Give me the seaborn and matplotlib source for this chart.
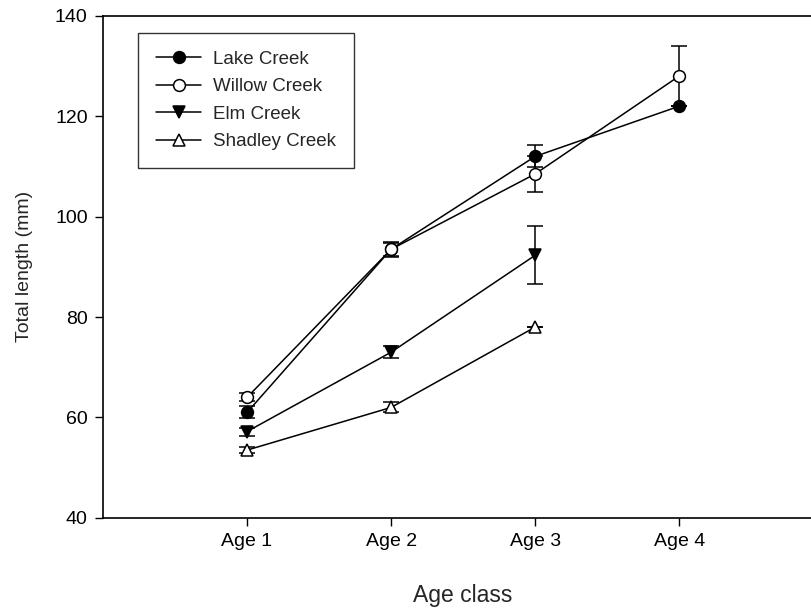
import matplotlib
matplotlib.use("Agg")
import matplotlib.pyplot as plt
import seaborn as sns
import pandas as pd
import numpy as np

ages = ["Age 1", "Age 2", "Age 3", "Age 4"]
lake = [61.0, 93.5, 112.0, 122.0]
lake_err = [1.2, 1.3, 2.2, 0.0]
willow = [64.0, 93.5, 108.5, 128.0]
willow_err = [0.8, 1.5, 3.6, 6.0]
elm = [57.2, 73.0, 92.3]
elm_err = [0.8, 1.2, 5.8]
shadley = [53.5, 62.0, 78.0]
shadley_err = [0.6, 1.0, 0.0]

series = [
    ("Lake Creek", lake, lake_err, "o", "black"),
    ("Willow Creek", willow, willow_err, "o", "white"),
    ("Elm Creek", elm, elm_err, "v", "black"),
    ("Shadley Creek", shadley, shadley_err, "^", "white"),
]

sns.set_style("ticks")
plt.rcParams["font.family"] = ["Liberation Sans", "DejaVu Sans"]

fig = plt.figure(figsize=(8.11, 6.10), dpi=100)
ax = fig.add_axes([0.127, 0.151, 0.888, 0.823])

for name, vals, errs, mk, fc in series:
    df = pd.DataFrame({"x": np.arange(1, len(vals) + 1), "y": vals})
    ax.errorbar(df["x"], df["y"], yerr=errs, fmt="none", ecolor="black",
                elinewidth=1.1, capsize=6, capthick=1.1, zorder=2)
    sns.lineplot(data=df, x="x", y="y", ax=ax, color="black", lw=1.1,
                 marker=mk, markersize=8.5 if mk == "o" else 9,
                 markerfacecolor=fc, markeredgecolor="black",
                 markeredgewidth=1.1, label=name, zorder=3)

ax.set_xlim(0, 5)
ax.set_ylim(40, 140)
ax.set_xticks([1, 2, 3, 4])
ax.set_xticklabels(ages)
ax.set_yticks([40, 60, 80, 100, 120, 140])
ax.tick_params(direction="out", length=6, width=1, labelsize=14, colors="black", pad=5)
for s in ax.spines.values():
    s.set_linewidth(1.2)
    s.set_color("black")
ax.set_xlabel("Age class", fontsize=16.5, labelpad=24)
ax.set_ylabel("Total length (mm)", fontsize=14, labelpad=16)

leg = ax.legend(loc="upper left", bbox_to_anchor=(0.049, 0.966), frameon=True,
                fancybox=False, edgecolor="black", fontsize=13.5,
                handlelength=2.4, handletextpad=0.65, borderpad=0.95,
                labelspacing=0.55, borderaxespad=0)
leg.get_frame().set_linewidth(1.0)

fig.savefig("out.png", dpi=100)
